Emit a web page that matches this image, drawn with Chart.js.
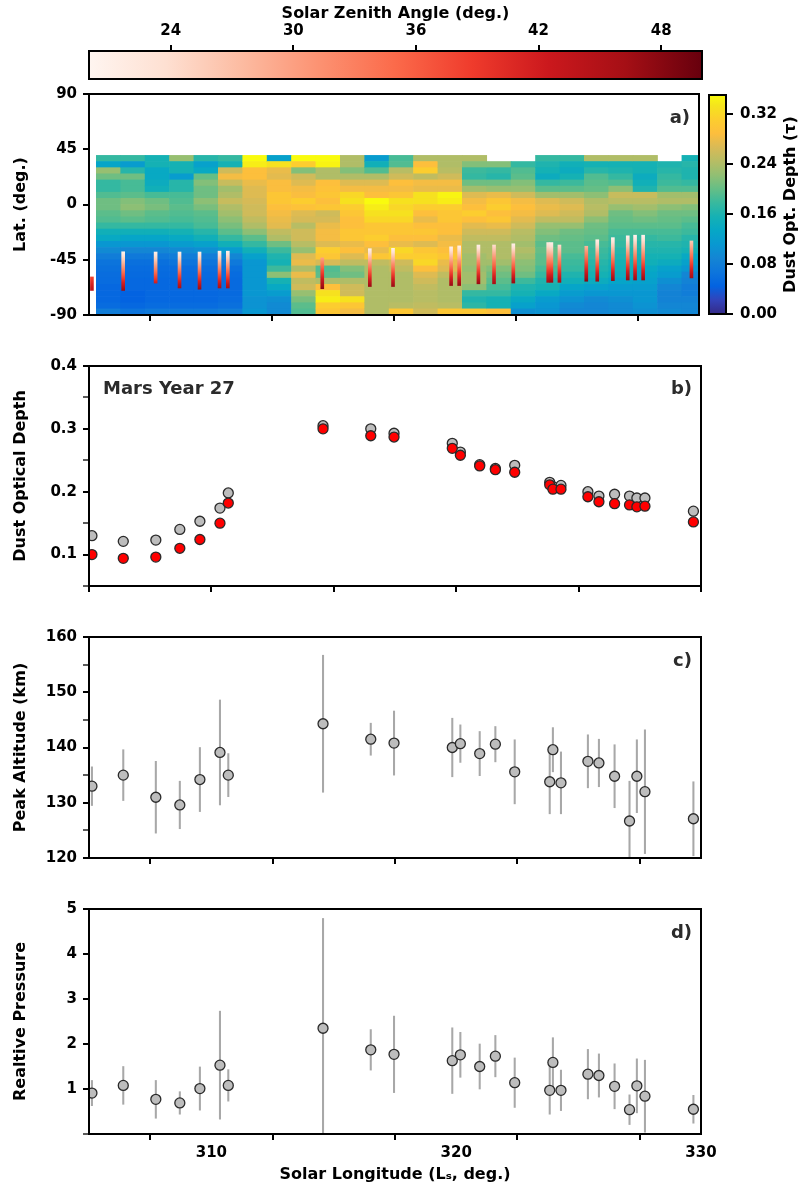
<!DOCTYPE html>
<html>
<head>
<meta charset="utf-8">
<script src="https://cdn.jsdelivr.net/npm/chart.js@4.4.1/dist/chart.umd.min.js"></script>
<style>
  html, body { margin: 0; padding: 0; background: #fff; }
  body { width: 799px; height: 1190px; position: relative; overflow: hidden; }
  canvas { position: absolute; }
</style>
</head>
<body>
<canvas id="szaBar" width="799" height="88" style="left:0px;top:0px"></canvas>
<canvas id="panelA" width="703" height="251" style="left:0px;top:79px"></canvas>
<canvas id="dustBar" width="99" height="251" style="left:700px;top:79px"></canvas>
<canvas id="panelB" width="799" height="250" style="left:0px;top:351px"></canvas>
<canvas id="panelC" width="799" height="251" style="left:0px;top:622px"></canvas>
<canvas id="panelD" width="799" height="296" style="left:0px;top:894px"></canvas>
<script>
// observations (solar longitude, deg.)
const lsObs = [305.12, 306.4, 307.73, 308.71, 309.53, 310.35, 310.69, 314.56, 316.51, 317.46,
  319.84, 320.17, 320.96, 321.6, 322.39, 323.82, 323.95, 324.28, 325.38, 325.83,
  326.47, 327.08, 327.38, 327.71, 329.69];

// panel b: dust optical depth
const tauGray = [0.130, 0.121, 0.123, 0.140, 0.153, 0.174, 0.198, 0.305, 0.300, 0.293,
  0.277, 0.263, 0.243, 0.237, 0.242, 0.215, 0.208, 0.210, 0.200, 0.193,
  0.196, 0.193, 0.190, 0.190, 0.169];
const tauRed = [0.100, 0.094, 0.096, 0.110, 0.124, 0.150, 0.182, 0.300, 0.289, 0.287,
  0.269, 0.258, 0.241, 0.235, 0.231, 0.211, 0.204, 0.204, 0.192, 0.184,
  0.181, 0.179, 0.176, 0.177, 0.152];

// panel c: peak altitude (km)
const peakAlt = [133.0, 135.0, 131.0, 129.6, 134.2, 139.1, 135.0, 144.3, 141.5, 140.8,
  140.0, 140.7, 138.9, 140.6, 135.6, 133.8, 139.6, 133.6, 137.5, 137.2,
  134.8, 126.7, 134.8, 132.0, 127.1];
const peakAltErr = [3.5, 4.6, 6.5, 4.3, 5.8, 9.5, 3.9, 12.4, 2.9, 5.8,
  5.3, 3.4, 4.0, 3.2, 5.8, 5.8, 4.0, 5.6, 4.8, 4.3,
  5.7, 7.2, 6.6, 11.2, 6.7];

// panel d: relative pressure
const relPress = [0.91, 1.08, 0.77, 0.69, 1.01, 1.53, 1.08, 2.35, 1.87, 1.77,
  1.63, 1.76, 1.50, 1.73, 1.14, 0.97, 1.59, 0.97, 1.33, 1.30,
  1.06, 0.54, 1.07, 0.84, 0.55];
const relPressErr = [0.28, 0.42, 0.42, 0.25, 0.48, 1.2, 0.35, 2.44, 0.45, 0.85,
  0.73, 0.5, 0.5, 0.46, 0.55, 0.53, 0.55, 0.45, 0.55, 0.48,
  0.5, 0.33, 0.6, 0.8, 0.31];

// panel a: occultation tracks (lat range and solar zenith angle at each end)
const segLatTop = [-59, -38.5, -38.7, -38.7, -38.7, -38, -38, -43.5, -36, -35.7,
  -34.5, -33.7, -33, -33, -32, -31, -31, -33, -34, -28.7,
  -27, -25.5, -25, -25, -29.7];
const segLatBottom = [-70, -70, -64, -68, -69, -68, -68, -68.6, -66.8, -66.8,
  -66, -66, -64.6, -64.6, -64, -63.4, -63.4, -63.4, -62.5, -62.5,
  -62, -61.5, -61.5, -61.5, -59.8];
const szaTop = [38, 20.5, 21, 21, 21, 21, 21, 30, 21, 21,
  21, 21, 21, 24, 21, 22, 21, 24, 28, 21,
  20.5, 20.5, 20.5, 20.5, 26];
const szaBottom = [44, 47, 42, 46, 47, 46, 46, 48, 47, 47,
  47, 47, 47, 46, 47, 46, 47, 46, 48, 47,
  47, 47, 47, 47, 46];

// panel a: dust map, column centres (Ls) and row tops (lat), 5 deg rows
const gridLs = [305.8, 306.8, 307.8, 308.8, 309.8, 310.8, 311.8, 312.8, 313.8, 314.8,
  315.8, 316.8, 317.8, 318.8, 319.8, 320.8, 321.8, 322.8, 323.8, 324.8,
  325.8, 326.8, 327.8, 328.8, 329.8];
const gridLatTop = [40, 35, 30, 25, 20, 15, 10, 5, 0, -5, -10, -15, -20, -25, -30,
  -35, -40, -45, -50, -55, -60, -65, -70, -75, -80, -85];
// dustTau[column][row]
const dustTau = [
  [0.175,0.13,0.225,0.205,0.175,0.175,0.19,0.205,0.205,0.195,0.19,0.175,0.15,0.137,0.11,0.095,0.078,0.065,0.06,0.057,0.055,0.05,0.05,0.05,0.055,0.078],
  [0.175,0.117,0.167,0.205,0.185,0.185,0.195,0.215,0.22,0.205,0.195,0.175,0.15,0.13,0.11,0.09,0.072,0.06,0.055,0.053,0.05,0.05,0.045,0.045,0.05,0.065],
  [0.155,0.155,0.137,0.137,0.143,0.15,0.185,0.205,0.21,0.195,0.19,0.175,0.15,0.13,0.11,0.09,0.072,0.06,0.055,0.053,0.05,0.05,0.05,0.05,0.055,0.072],
  [0.225,0.155,0.155,0.117,0.167,0.167,0.185,0.19,0.195,0.19,0.185,0.175,0.155,0.137,0.117,0.095,0.078,0.065,0.055,0.053,0.05,0.05,0.05,0.05,0.055,0.072],
  [0.167,0.124,0.137,0.2,0.215,0.205,0.205,0.22,0.21,0.195,0.19,0.185,0.167,0.15,0.124,0.1,0.078,0.065,0.057,0.053,0.05,0.05,0.05,0.05,0.055,0.072],
  [0.175,0.155,0.26,0.283,0.255,0.232,0.24,0.255,0.24,0.232,0.22,0.21,0.195,0.175,0.15,0.117,0.09,0.072,0.06,0.055,0.053,0.053,0.053,0.055,0.06,0.078],
  [0.35,0.34,0.29,0.29,0.277,0.27,0.27,0.265,0.26,0.26,0.25,0.24,0.22,0.195,0.175,0.15,0.124,0.11,0.11,0.11,0.11,0.11,0.11,0.105,0.105,0.11],
  [0.124,0.33,0.277,0.273,0.287,0.287,0.3,0.3,0.29,0.283,0.277,0.273,0.25,0.24,0.205,0.18,0.162,0.155,0.18,0.22,0.155,0.137,0.117,0.1,0.095,0.095],
  [0.35,0.31,0.215,0.26,0.27,0.283,0.287,0.31,0.295,0.27,0.265,0.245,0.26,0.26,0.245,0.225,0.27,0.277,0.24,0.277,0.25,0.26,0.225,0.21,0.195,0.19],
  [0.35,0.345,0.24,0.24,0.29,0.295,0.3,0.29,0.3,0.26,0.265,0.277,0.283,0.283,0.27,0.31,0.3,0.265,0.19,0.195,0.24,0.29,0.33,0.34,0.31,0.3],
  [0.24,0.24,0.215,0.24,0.27,0.283,0.32,0.33,0.31,0.3,0.29,0.29,0.3,0.3,0.277,0.29,0.27,0.25,0.215,0.205,0.24,0.26,0.26,0.33,0.3,0.283],
  [0.117,0.15,0.19,0.24,0.27,0.283,0.29,0.35,0.34,0.33,0.32,0.3,0.3,0.31,0.29,0.277,0.3,0.25,0.24,0.24,0.24,0.24,0.24,0.24,0.24,0.24],
  [0.185,0.19,0.245,0.26,0.29,0.283,0.3,0.33,0.32,0.33,0.32,0.3,0.3,0.29,0.277,0.32,0.31,0.26,0.25,0.24,0.24,0.24,0.24,0.24,0.245,0.3],
  [0.24,0.29,0.31,0.25,0.283,0.277,0.33,0.33,0.31,0.29,0.277,0.29,0.3,0.29,0.27,0.3,0.31,0.32,0.29,0.27,0.26,0.25,0.245,0.245,0.25,0.26],
  [0.24,0.24,0.245,0.26,0.283,0.277,0.345,0.34,0.31,0.3,0.3,0.29,0.29,0.277,0.283,0.29,0.3,0.277,0.27,0.25,0.24,0.24,0.24,0.24,0.245,0.3],
  [0.24,0.215,0.18,0.175,0.205,0.232,0.27,0.283,0.29,0.31,0.29,0.273,0.26,0.25,0.24,0.24,0.232,0.232,0.225,0.232,0.232,0.22,0.175,0.162,0.17,0.3],
  [null,0.215,0.175,0.167,0.205,0.225,0.277,0.3,0.31,0.29,0.3,0.277,0.26,0.25,0.24,0.24,0.24,0.232,0.215,0.205,0.195,0.185,0.175,0.155,0.155,0.29],
  [null,0.175,0.19,0.195,0.215,0.225,0.26,0.283,0.29,0.283,0.273,0.26,0.245,0.24,0.232,0.24,0.232,0.22,0.215,0.205,0.18,0.162,0.155,0.137,0.124,0.1],
  [0.175,0.162,0.155,0.143,0.175,0.195,0.232,0.27,0.277,0.27,0.25,0.225,0.215,0.205,0.195,0.2,0.195,0.195,0.185,0.175,0.162,0.155,0.137,0.117,0.11,0.105],
  [0.175,0.15,0.143,0.155,0.18,0.195,0.232,0.26,0.27,0.26,0.25,0.225,0.205,0.2,0.195,0.195,0.185,0.18,0.175,0.162,0.15,0.13,0.117,0.105,0.095,0.09],
  [0.24,0.155,0.167,0.19,0.195,0.2,0.22,0.24,0.245,0.24,0.22,0.205,0.2,0.195,0.185,0.18,0.175,0.167,0.162,0.155,0.143,0.124,0.11,0.095,0.09,0.09],
  [0.24,0.155,0.162,0.175,0.19,0.22,0.255,0.245,0.225,0.205,0.2,0.195,0.185,0.18,0.175,0.167,0.162,0.155,0.15,0.143,0.13,0.117,0.11,0.1,0.095,0.095],
  [0.24,0.155,0.155,0.143,0.15,0.162,0.255,0.245,0.232,0.215,0.205,0.195,0.185,0.175,0.167,0.162,0.155,0.15,0.137,0.13,0.124,0.117,0.11,0.11,0.105,0.1],
  [null,0.162,0.167,0.175,0.18,0.19,0.232,0.24,0.22,0.205,0.2,0.195,0.185,0.18,0.167,0.162,0.155,0.143,0.124,0.117,0.1,0.09,0.085,0.085,0.09,0.095],
  [0.155,0.167,0.162,0.162,0.175,0.19,0.232,0.24,0.215,0.205,0.195,0.185,0.18,0.167,0.162,0.155,0.137,0.124,0.11,0.09,0.085,0.078,0.078,0.085,0.09,0.09]
];

// ticks
const lsTicks = [305, 310, 315, 320, 325, 330];
const latTicks = [-90, -45, 0, 45, 90];
const tauTicks = [0.05, 0.1, 0.15, 0.2, 0.25, 0.3, 0.35, 0.4];
const altTicks = [120, 125, 130, 135, 140, 145, 150, 155, 160];
const pressTicks = [0, 1, 2, 3, 4, 5];
const szaTicks = [24, 30, 36, 42, 48];
const dustTicks = [0, 0.08, 0.16, 0.24, 0.32];

// colour maps
const parulaStops = [[0, 53, 42, 135], [0.063, 50, 67, 186], [0.127, 3, 99, 225], [0.19, 13, 117, 220],
  [0.254, 20, 133, 212], [0.317, 9, 152, 209], [0.381, 6, 167, 198], [0.444, 21, 177, 180],
  [0.508, 56, 185, 158], [0.571, 101, 190, 134], [0.635, 146, 191, 115], [0.698, 183, 189, 100],
  [0.762, 217, 186, 86], [0.825, 253, 190, 61], [0.889, 252, 206, 46], [0.952, 245, 228, 29],
  [1, 249, 251, 14]];
const redsStops = [[0, 255, 245, 240], [0.125, 254, 224, 210], [0.25, 252, 187, 161], [0.375, 252, 146, 114],
  [0.5, 251, 106, 74], [0.625, 239, 59, 44], [0.75, 203, 24, 29], [0.875, 165, 15, 21], [1, 103, 0, 13]];

function cmap(stops, t) {
  t = Math.max(0, Math.min(1, t));
  for (let i = 1; i < stops.length; i++) {
    if (t <= stops[i][0]) {
      const a = stops[i - 1], b = stops[i];
      const f = (t - a[0]) / (b[0] - a[0]);
      const c = [1, 2, 3].map(k => Math.round(a[k] + (b[k] - a[k]) * f));
      return 'rgb(' + c.join(',') + ')';
    }
  }
  const l = stops[stops.length - 1];
  return 'rgb(' + l[1] + ',' + l[2] + ',' + l[3] + ')';
}
const dustColor = v => cmap(parulaStops, v / 0.35);
const szaColor = s => cmap(redsStops, (s - 20) / 30);

Chart.defaults.font.family = "'DejaVu Sans', sans-serif";
Chart.defaults.font.size = 15;
Chart.defaults.font.weight = 'bold';
Chart.defaults.color = '#000';
Chart.defaults.animation = false;
Chart.defaults.responsive = false;
Chart.defaults.plugins.legend.display = false;
Chart.defaults.plugins.tooltip.enabled = false;

const titleFont = { size: 16, weight: 'bold' };

const framePlugin = {
  id: 'frame',
  afterDraw(chart) {
    const { ctx, chartArea: a } = chart;
    ctx.save();
    ctx.strokeStyle = '#000';
    ctx.lineWidth = 2;
    ctx.strokeRect(a.left, a.top, a.right - a.left, a.bottom - a.top);
    ctx.restore();
  }
};

function textPlugin(items) {
  return {
    id: 'panelText',
    afterDraw(chart) {
      const { ctx, chartArea: a } = chart;
      ctx.save();
      items.forEach(it => {
        ctx.font = "bold " + it.size + "px 'DejaVu Sans'";
        ctx.fillStyle = '#2b2b2b';
        ctx.textBaseline = 'middle';
        ctx.textAlign = it.side;
        const x = it.side === 'right' ? a.right - it.dx : a.left + it.dx;
        ctx.fillText(it.text, x, a.top + it.dy);
      });
      ctx.restore();
    }
  };
}

const tickGrid = (len) => ({
  drawOnChartArea: false, lineWidth: 0, tickLength: len, tickColor: '#000', tickWidth: 2
});
const axisBorder = { display: true, color: '#000', width: 2 };

function lsAxis(showLabels, height, title) {
  const ax = {
    type: 'linear', min: 305, max: 330, offset: false,
    afterBuildTicks: s => { s.ticks = lsTicks.map(v => ({ value: v })); },
    afterFit: s => { s.height = height; },
    grid: tickGrid(6),
    border: axisBorder,
    ticks: { padding: 4, maxRotation: 0, autoSkip: false,
      callback: v => (showLabels && v % 10 === 0) ? String(v) : '' }
  };
  if (title) ax.title = { display: true, text: title, font: titleFont, padding: { top: 0, bottom: 6 } };
  return ax;
}

function valueAxis(min, max, ticks, isMajor, fmt, title) {
  return {
    type: 'linear', min: min, max: max,
    afterBuildTicks: s => { s.ticks = ticks.map(v => ({ value: v })); },
    afterFit: s => { s.width = 89; },
    grid: { drawOnChartArea: false, lineWidth: 0, tickLength: 6, tickColor: '#000',
      tickWidth: c => (c.tick && isMajor(c.tick.value)) ? 2 : 1.3 },
    border: axisBorder,
    ticks: { padding: 6, autoSkip: false, callback: v => isMajor(v) ? fmt(v) : '' },
    title: { display: true, text: title, font: titleFont, padding: { top: 11, bottom: 0 } }
  };
}

// ---- top colour bar: solar zenith angle ----
new Chart(document.getElementById('szaBar'), {
  type: 'scatter',
  data: {
    datasets: [{
      type: 'bar', indexAxis: 'y', grouped: false, clip: 0, barThickness: 40,
      data: [{ y: 0, x: [20, 50] }],
      backgroundColor: c => {
        const x = c.chart.scales.x;
        if (!x) return '#fb6a4a';
        const x0 = x.getPixelForValue(20), x1 = x.getPixelForValue(50);
        if (!isFinite(x0) || !isFinite(x1)) return '#fb6a4a';
        const g = c.chart.ctx.createLinearGradient(x0, 0, x1, 0);
        redsStops.forEach(s => g.addColorStop(s[0], 'rgb(' + s[1] + ',' + s[2] + ',' + s[3] + ')'));
        return g;
      }
    }]
  },
  options: {
    layout: { padding: { left: 89, right: 97, top: 0, bottom: 9 } },
    scales: {
      x: {
        type: 'linear', position: 'top', min: 20, max: 50,
        afterBuildTicks: s => { s.ticks = szaTicks.map(v => ({ value: v })); },
        afterFit: s => { s.height = 51; },
        grid: tickGrid(6), border: axisBorder,
        ticks: { padding: 5, maxRotation: 0, autoSkip: false, callback: v => String(v) },
        title: { display: true, text: 'Solar Zenith Angle (deg.)', font: titleFont, padding: { top: 4, bottom: 0 } }
      },
      y: { type: 'linear', min: -1, max: 1, display: false }
    }
  },
  plugins: [framePlugin]
});

// ---- panel a: dust map with occultation tracks ----
const heatCells = [];
const heatColors = [];
gridLs.forEach((ls, c) => {
  gridLatTop.forEach((top, r) => {
    const v = dustTau[c][r];
    if (v == null) return;
    heatCells.push({ x: ls, y: [top - 5, top] });
    heatColors.push(dustColor(v));
  });
});

function trackGradient(c) {
  const chart = c.chart, i = c.dataIndex, y = chart.scales.y;
  if (!y || i === undefined) return '#cb181d';
  const y0 = y.getPixelForValue(segLatTop[i]), y1 = y.getPixelForValue(segLatBottom[i]);
  if (!isFinite(y0) || !isFinite(y1)) return '#cb181d';
  const g = chart.ctx.createLinearGradient(0, y0, 0, y1);
  for (let k = 0; k <= 10; k++) {
    g.addColorStop(k / 10, szaColor(szaTop[i] + (szaBottom[i] - szaTop[i]) * k / 10));
  }
  return g;
}

new Chart(document.getElementById('panelA'), {
  type: 'scatter',
  data: {
    datasets: [{
      type: 'bar', order: 2, grouped: false, clip: 0,
      barPercentage: 1, categoryPercentage: 1,
      data: heatCells, backgroundColor: heatColors
    }, {
      type: 'bar', order: 1, xAxisID: 'x2', grouped: false, clip: 0, barThickness: 3,
      data: lsObs.map((ls, i) => ({ x: ls, y: [segLatBottom[i], segLatTop[i]] })),
      backgroundColor: trackGradient
    }]
  },
  options: {
    layout: { padding: { left: 0, right: 2, top: 14, bottom: 0 } },
    scales: {
      x: lsAxis(false, 10),
      // second Ls axis (same range) so the narrow tracks do not change the map cell width
      x2: {
        type: 'linear', position: 'bottom', min: 305, max: 330, offset: false,
        afterFit: s => { s.height = 0; },
        grid: { display: false }, border: { display: false }, ticks: { display: false }
      },
      y: valueAxis(-90, 90, latTicks, () => true, v => String(v), 'Lat. (deg.)')
    }
  },
  plugins: [framePlugin, textPlugin([{ text: 'a)', side: 'right', dx: 9, dy: 24, size: 18 }])]
});

// ---- right colour bar: dust optical depth ----
new Chart(document.getElementById('dustBar'), {
  type: 'scatter',
  data: {
    datasets: [{
      type: 'bar', grouped: false, clip: 0, barThickness: 40,
      data: [{ x: 0, y: [0, 0.35] }],
      backgroundColor: c => {
        const y = c.chart.scales.y;
        if (!y) return '#38b99e';
        const y0 = y.getPixelForValue(0), y1 = y.getPixelForValue(0.35);
        if (!isFinite(y0) || !isFinite(y1)) return '#38b99e';
        const g = c.chart.ctx.createLinearGradient(0, y0, 0, y1);
        parulaStops.forEach(s => g.addColorStop(s[0], 'rgb(' + s[1] + ',' + s[2] + ',' + s[3] + ')'));
        return g;
      }
    }]
  },
  options: {
    layout: { padding: { left: 9, right: 0, top: 14, bottom: 10 } },
    scales: {
      x: { type: 'linear', min: -1, max: 1, display: false },
      y: {
        type: 'linear', position: 'right', min: 0, max: 0.35,
        afterBuildTicks: s => { s.ticks = dustTicks.map(v => ({ value: v })); },
        afterFit: s => { s.width = 73; },
        grid: tickGrid(7), border: axisBorder,
        ticks: { padding: 7, autoSkip: false, callback: v => v.toFixed(2) }
      }
    }
  },
  plugins: [framePlugin, {
    id: 'cbTitle',
    afterDraw(chart) {
      const { ctx, chartArea: a } = chart;
      ctx.save();
      ctx.translate(chart.scales.y.right - 8, (a.top + a.bottom) / 2);
      ctx.rotate(-Math.PI / 2);
      ctx.font = "bold 16px 'DejaVu Sans'";
      ctx.fillStyle = '#000';
      ctx.textAlign = 'center';
      ctx.textBaseline = 'middle';
      ctx.fillText('Dust Opt. Depth (\u03c4)', 0, 0);
      ctx.restore();
    }
  }]
});

// ---- panel b: dust optical depth ----
const pointStyle = (fill) => ({
  pointRadius: 5, pointBackgroundColor: fill, pointBorderColor: '#2a2a2a', pointBorderWidth: 1.3
});
new Chart(document.getElementById('panelB'), {
  type: 'scatter',
  data: {
    datasets: [
      Object.assign({ order: 0, data: lsObs.map((x, i) => ({ x: x, y: tauRed[i] })) }, pointStyle('#ff0000')),
      Object.assign({ order: 1, data: lsObs.map((x, i) => ({ x: x, y: tauGray[i] })) }, pointStyle('#bdbdbd'))
    ]
  },
  options: {
    layout: { padding: { left: 0, right: 98, top: 14, bottom: 0 } },
    scales: {
      x: lsAxis(false, 10),
      y: valueAxis(0.05, 0.4, tauTicks, v => Math.abs(v * 10 - Math.round(v * 10)) < 1e-6,
        v => v.toFixed(1), 'Dust Optical Depth')
    }
  },
  plugins: [framePlugin, textPlugin([
    { text: 'b)', side: 'right', dx: 9, dy: 23, size: 18 },
    { text: 'Mars Year 27', side: 'left', dx: 14, dy: 23, size: 18 }
  ])]
});

// ---- panels c and d: points with error bars ----
function errorPanel(id, values, errs, ymin, ymax, ticks, isMajor, title, label, xLabels, xHeight, xTitle) {
  return new Chart(document.getElementById(id), {
    type: 'scatter',
    data: {
      datasets: [
        Object.assign({ order: 0, data: lsObs.map((x, i) => ({ x: x, y: values[i] })) }, pointStyle('#bdbdbd')),
        {
          type: 'bar', order: 1, grouped: false, clip: 0, barThickness: 1.4,
          backgroundColor: '#a8a8a8',
          data: lsObs.map((x, i) => ({ x: x, y: [values[i] - errs[i], values[i] + errs[i]] }))
        }
      ]
    },
    options: {
      layout: { padding: { left: 0, right: 98, top: 14, bottom: 0 } },
      scales: {
        x: lsAxis(xLabels, xHeight, xTitle),
        y: valueAxis(ymin, ymax, ticks, isMajor, v => String(v), title)
      }
    },
    plugins: [framePlugin, textPlugin([{ text: label, side: 'right', dx: 9, dy: 24, size: 18 }])]
  });
}

errorPanel('panelC', peakAlt, peakAltErr, 120, 160, altTicks, v => v % 10 === 0,
  'Peak Altitude (km)', 'c)', false, 10, null);
errorPanel('panelD', relPress, relPressErr, 0, 5, pressTicks, v => v !== 0,
  'Realtive Pressure', 'd)', true, 56, 'Solar Longitude (L\u209b, deg.)');
</script>
</body>
</html>
